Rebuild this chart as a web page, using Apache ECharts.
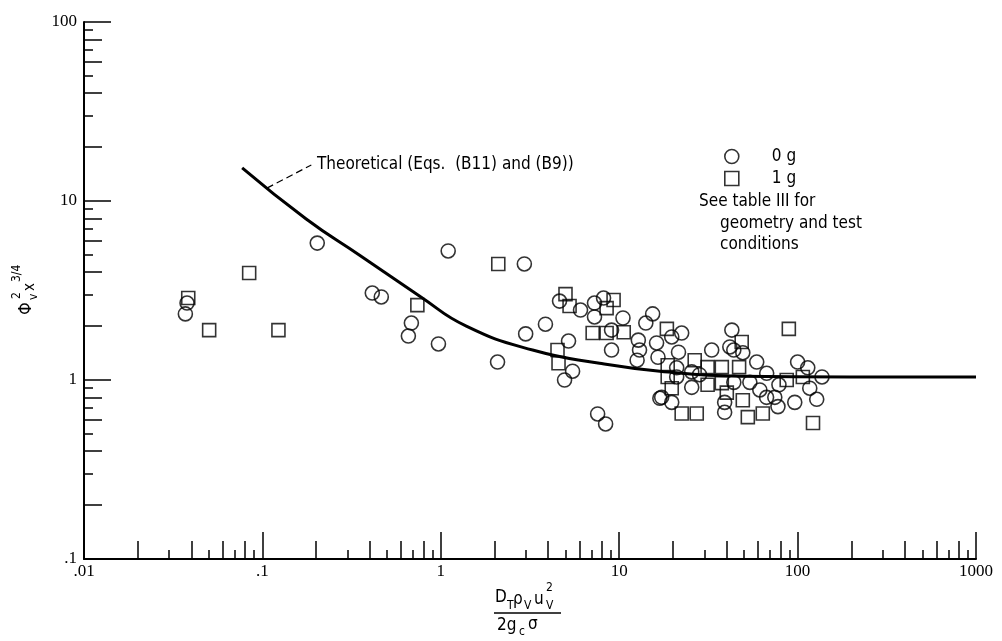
<!DOCTYPE html>
<html>
<head>
<meta charset="utf-8">
<script src="https://cdn.jsdelivr.net/npm/echarts@6/dist/echarts.min.js"></script>
<style>html,body{margin:0;padding:0;background:#fff}#c{width:1002px;height:641px}</style>
</head>
<body>
<div id="c"></div>
<script>
// ---- data ----
const xMajor = [0.01, 0.1, 1, 10, 100, 1000];
const xMajorLabels = ['.01', '.1', '1', '10', '100', '1000'];
const yMajor = [0.1, 1, 10, 100];
const yMajorLabels = ['.1', '1', '10', '100'];
const minorLongMult = [2, 4, 6, 8];
const minorShortMult = [3, 5, 7, 9];

const g0X = [0.037,0.0378,0.203,1.10,0.413,0.464,0.684,0.658,0.97,2.94,2.08,2.99,3.86,5.20,5.48,4.94,7.57,8.39,4.63,6.07,7.27,8.17,7.27,10.5,9.06,9.06,12.8,13,12.6,14.1,15.4,16.2,16.5,16.9,19.7,22.4,21.5,21,21,25.5,28.2,25.5,17.3,19.7,33.0,42.8,41.7,43.9,49.3,43.9,39.0,39.0,54.0,59.0,67.1,61.4,67,74.5,77.6,78.6,96.4,100,114,137,117,128];
const g0Y = [2.34,2.69,5.82,5.26,3.06,2.91,2.08,1.76,1.59,4.45,1.26,1.81,2.05,1.65,1.12,1.0,0.646,0.568,2.76,2.46,2.69,2.87,2.25,2.22,1.90,1.47,1.67,1.47,1.29,2.08,2.34,1.61,1.34,0.79,1.74,1.83,1.43,1.17,1.04,1.11,1.07,0.91,0.80,0.75,1.47,1.90,1.53,1.47,1.42,0.97,0.75,0.66,0.97,1.26,1.09,0.88,0.80,0.80,0.71,0.94,0.75,1.26,1.17,1.04,0.90,0.78];

const g1X = [0.0384,0.0503,0.0843,0.123,0.739,2.10,4.51,4.57,5.00,5.27,9.3,8.5,7.1,8.5,10.6,18.5,18.7,18.7,26.5,19.7,22.4,27.2,31.3,37.6,31.3,37.6,48.6,47.0,40.1,49.3,52.6,63.8,86.9,89.3,107,122];
const g1Y = [2.87,1.90,3.96,1.90,2.62,4.45,1.47,1.24,3.02,2.59,2.80,2.52,1.83,1.83,1.85,1.93,1.21,1.04,1.29,0.90,0.65,0.65,1.18,1.18,0.94,0.96,1.63,1.18,0.85,0.77,0.62,0.65,1.0,1.93,1.04,0.575];

const theoryX = [0.077,0.176,0.349,0.759,1.39,3.27,7.76,16.9,47.4,196,1000];
const theoryY = [15.3,7.93,4.99,2.95,2.00,1.47,1.24,1.12,1.05,1.04,1.04];

const leaderX = [0.106, 0.188];
const leaderY = [11.8, 15.9];

// ---- helpers ----
const zip = (a, b) => a.map((v, i) => [v, b[i]]);
const minors = (decades, mults) => decades.flatMap(d => mults.map(m => d * m));

const SERIF = 'Liberation Serif';
const SANS = 'DejaVu Sans Condensed';
const axisCommon = { type: 'log', logBase: 10, splitLine: { show: false }, axisLabel: { show: false } };

function xAx(ticks, len, main) {
  return Object.assign({}, axisCommon, {
    min: 0.01, max: 1000, position: 'bottom', gridIndex: 0,
    axisLine: { show: main, onZero: false, lineStyle: { color: '#000', width: 2 } },
    axisTick: { show: true, inside: true, length: len, customValues: ticks, lineStyle: { color: '#000', width: 1.5 } }
  });
}
function yAx(ticks, len, main) {
  return Object.assign({}, axisCommon, {
    min: 0.1, max: 100, position: 'left', gridIndex: 0,
    axisLine: { show: main, onZero: false, lineStyle: { color: '#000', width: 2 } },
    axisTick: { show: true, inside: true, length: len, customValues: ticks, lineStyle: { color: '#000', width: 1.5 } }
  });
}

const xDecades = xMajor.slice(0, -1);
const yDecades = yMajor.slice(0, -1);

const markerStyle = { color: 'rgba(0,0,0,0)', borderColor: '#000', borderWidth: 1.6 };

function txt(x, y, text, size, extra) {
  return Object.assign({ type: 'text', x: x, y: y, style: { text: text, fontFamily: SANS, fontSize: size, fill: '#000', align: 'left', verticalAlign: 'middle' } }, extra || {});
}

const chart = echarts.init(document.getElementById('c'), null, { renderer: 'canvas' });
chart.setOption({
  animation: false,
  backgroundColor: '#fff',
  grid: { left: 84, right: 26, top: 22, bottom: 82, containLabel: false },
  xAxis: [
    xAx(xMajor, 27, true),
    xAx(minors(xDecades, minorLongMult), 18, false),
    xAx(minors(xDecades, minorShortMult), 9, false)
  ],
  yAxis: [
    yAx(yMajor, 27, true),
    yAx(minors(yDecades, minorLongMult), 18, false),
    yAx(minors(yDecades, minorShortMult), 9, false)
  ],
  legend: {
    orient: 'vertical', left: 719, top: 143, itemWidth: 14, itemHeight: 14, itemGap: 5,
    data: [{ name: '0 g', icon: 'circle' }, { name: '1 g', icon: 'rect' }],
    itemStyle: markerStyle,
    textStyle: { fontFamily: SANS, fontSize: 17, color: '#000', padding: [0, 0, 0, 28] }
  },
  series: [
    {
      name: 'Theoretical', type: 'line', data: zip(theoryX, theoryY), smooth: 0.5, showSymbol: false,
      lineStyle: { color: '#000', width: 3 }, z: 3,
      markLine: {
        silent: true, symbol: ['none', 'none'], label: { show: false },
        lineStyle: { color: '#000', width: 1.2, type: [7, 4] },
        data: [[{ coord: [leaderX[0], leaderY[0]] }, { coord: [leaderX[1], leaderY[1]] }]]
      }
    },
    { name: '0 g', type: 'scatter', data: zip(g0X, g0Y), symbol: 'circle', symbolSize: 14, itemStyle: markerStyle, z: 4 },
    { name: '1 g', type: 'scatter', data: zip(g1X, g1Y), symbol: 'rect', symbolSize: 13, itemStyle: markerStyle, z: 4 }
  ]
});

// tick labels placed through the axes' own scales
const axisY = chart.convertToPixel({ yAxisIndex: 0 }, yMajor[0]);
const axisX = chart.convertToPixel({ xAxisIndex: 0 }, xMajor[0]);
const tickLabels = [];
xMajor.forEach((v, i) => {
  tickLabels.push({ type: 'text', x: chart.convertToPixel({ xAxisIndex: 0 }, v), y: axisY + 4,
    style: { text: xMajorLabels[i], fontFamily: SERIF, fontSize: 17, fill: '#000', align: 'center', verticalAlign: 'top' } });
});
yMajor.forEach((v, i) => {
  tickLabels.push({ type: 'text', x: axisX - 7, y: chart.convertToPixel({ yAxisIndex: 0 }, v),
    style: { text: yMajorLabels[i], fontFamily: SERIF, fontSize: 17, fill: '#000', align: 'right', verticalAlign: 'middle' } });
});

chart.setOption({
  graphic: tickLabels.concat([
    txt(317, 165, 'Theoretical (Eqs.  (B11) and (B9))', 17),
    txt(699, 202, 'See table III for', 17),
    txt(720, 224, 'geometry and test', 17),
    txt(720, 245, 'conditions', 17),
    // x axis title (fraction)
    txt(495, 598, 'D', 17), txt(507, 606, 'T', 12), txt(513, 600, 'ρ', 17), txt(524, 606, 'V', 12),
    txt(534, 600, 'u', 17), txt(546, 588, '2', 12), txt(546, 606, 'V', 12),
    { type: 'line', shape: { x1: 494, y1: 613, x2: 561, y2: 613 }, style: { stroke: '#000', lineWidth: 1.5 } },
    txt(497, 626, '2g', 17), txt(519, 632, 'c', 12), txt(528, 625, 'σ', 17),
    // y axis title (rotated)
    { type: 'group', x: 26, y: 315, rotation: Math.PI / 2, children: [
      txt(0, 0, 'Φ', 18), txt(15, 8, 'v', 12), txt(16, -9, '2', 12),
      txt(24, 4, 'x', 15), txt(33, -9, '3/4', 12)
    ] }
  ])
});
</script>
</body>
</html>
